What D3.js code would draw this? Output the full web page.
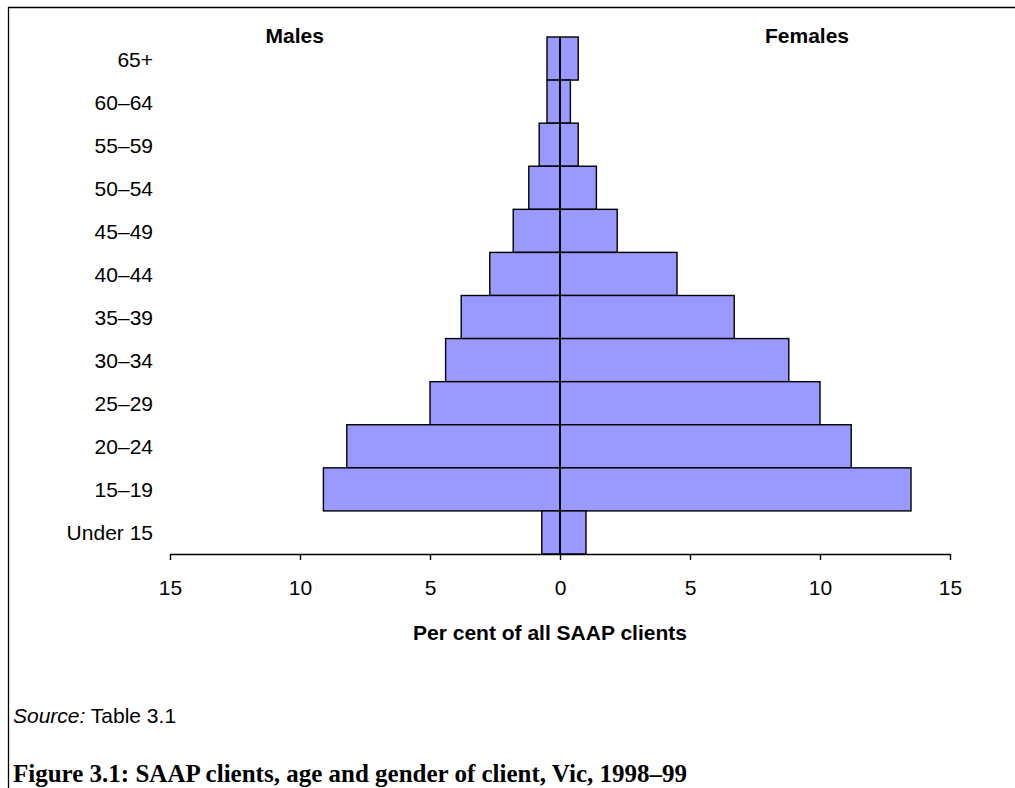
<!DOCTYPE html>
<html>
<head>
<meta charset="utf-8">
<script src="https://cdn.jsdelivr.net/npm/d3@7"></script>
<style>
  html, body { margin: 0; padding: 0; background: #fff; }
  svg { display: block; }
  text { font-family: "Liberation Sans", Arial, sans-serif; fill: #000; }
  text.caption { font-family: "Liberation Serif", "DejaVu Serif", serif; }
</style>
</head>
<body>
<svg id="chart" width="1015" height="788"></svg>
<script>
// ---- Data ----
const categories = ["65+", "60–64", "55–59", "50–54", "45–49", "40–44", "35–39", "30–34", "25–29", "20–24", "15–19", "Under 15"];
const males   = [0.5, 0.5, 0.8, 1.2, 1.8, 2.7, 3.8, 4.4, 5.0, 8.2, 9.1, 0.7];
const females = [0.7, 0.4, 0.7, 1.4, 2.2, 4.5, 6.7, 8.8, 10.0, 11.2, 13.5, 1.0];
const tickValues = [-15, -10, -5, 0, 5, 10, 15];
const axisTitle = "Per cent of all SAAP clients";
const sourceLabel = "Source:";
const sourceText = " Table 3.1";
const caption = "Figure 3.1: SAAP clients, age and gender of client, Vic, 1998–99";

const svg = d3.select("#chart");

// Frame lines (top and left)
svg.append("line").attr("x1", 8).attr("x2", 1015).attr("y1", 7.5).attr("y2", 7.5)
  .attr("stroke", "#000").attr("stroke-width", 1.3);
svg.append("line").attr("x1", 8.5).attr("x2", 8.5).attr("y1", 7).attr("y2", 788)
  .attr("stroke", "#000").attr("stroke-width", 1.3);

const x = d3.scaleLinear().domain([-15, 15]).range([170, 950]);
const y = d3.scaleBand().domain(categories).range([37, 554]).padding(0);

const rows = categories.map((c, i) => ({ cat: c, m: males[i], f: females[i] }));

// Male bars
svg.append("g").selectAll("rect").data(rows).join("rect")
  .attr("x", d => x(-d.m))
  .attr("y", d => y(d.cat))
  .attr("width", d => x(0) - x(-d.m))
  .attr("height", y.bandwidth())
  .attr("fill", "#9999FF")
  .attr("stroke", "#000")
  .attr("stroke-width", 1.4);

// Female bars
svg.append("g").selectAll("rect").data(rows).join("rect")
  .attr("x", x(0))
  .attr("y", d => y(d.cat))
  .attr("width", d => x(d.f) - x(0))
  .attr("height", y.bandwidth())
  .attr("fill", "#9999FF")
  .attr("stroke", "#000")
  .attr("stroke-width", 1.4);

// Centre line
svg.append("line")
  .attr("x1", x(0)).attr("x2", x(0))
  .attr("y1", y(categories[0])).attr("y2", 554)
  .attr("stroke", "#000").attr("stroke-width", 2);

// Category labels
svg.append("g").selectAll("text").data(categories).join("text")
  .attr("x", 153)
  .attr("y", d => y(d) + y.bandwidth() / 2 + 8)
  .attr("text-anchor", "end")
  .attr("font-size", 21)
  .text(d => d);

// X axis
const axis = d3.axisBottom(x)
  .tickValues(tickValues)
  .tickFormat(d => Math.abs(d))
  .tickSize(6)
  .tickSizeOuter(0)
  .tickPadding(20);
const gx = svg.append("g").attr("transform", "translate(0,554)").call(axis);
gx.select(".domain").attr("stroke", "#000").attr("stroke-width", 1.6);
gx.selectAll(".tick line").attr("stroke", "#000").attr("stroke-width", 1.4);
gx.selectAll(".tick text")
  .attr("font-size", 21)
  .attr("fill", "#000")
  .attr("dy", null)
  .attr("y", 41);

// Axis title
svg.append("text")
  .attr("x", 550)
  .attr("y", 640)
  .attr("text-anchor", "middle")
  .attr("font-size", 21)
  .attr("font-weight", "bold")
  .text(axisTitle);

// Series headers
svg.append("text")
  .attr("x", x(-10.2)).attr("y", 43)
  .attr("text-anchor", "middle")
  .attr("font-size", 21).attr("font-weight", "bold")
  .text("Males");
svg.append("text")
  .attr("x", x(9.5)).attr("y", 43)
  .attr("text-anchor", "middle")
  .attr("font-size", 21).attr("font-weight", "bold")
  .text("Females");

// Source
const src = svg.append("text").attr("x", 13).attr("y", 723).attr("font-size", 21);
src.append("tspan").attr("font-style", "italic").text(sourceLabel);
src.append("tspan").text(sourceText);

// Caption (fit to reference width by font size)
const cap = svg.append("text")
  .attr("class", "caption")
  .attr("x", 13).attr("y", 782)
  .attr("font-size", 22)
  .attr("font-weight", "bold")
  .text(caption);
const w = cap.node().getComputedTextLength();
if (w > 0) cap.attr("font-size", Math.min(25, 22 * 683 / w));
</script>
</body>
</html>
